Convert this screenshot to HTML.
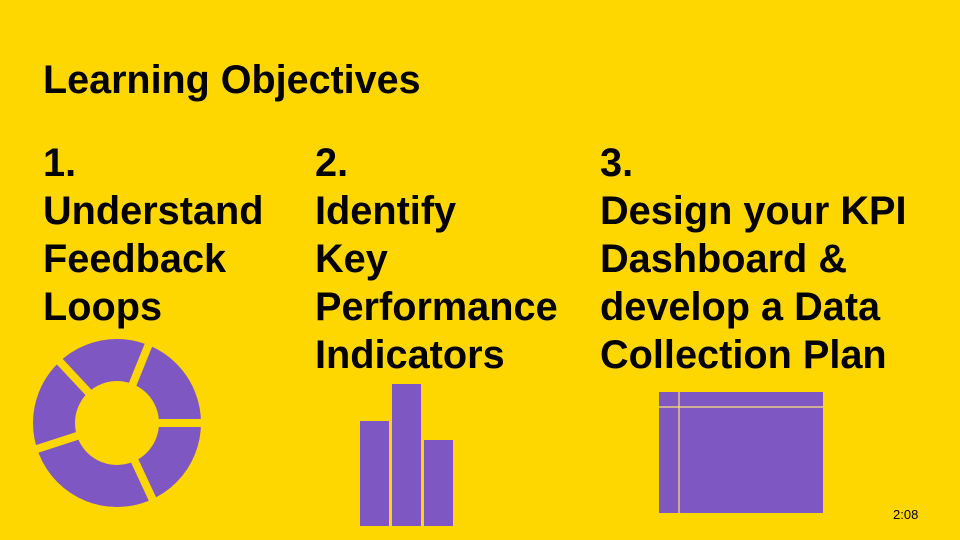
<!DOCTYPE html>
<html><head><meta charset="utf-8"><style>
html,body{margin:0;padding:0}
body{width:960px;height:540px;background:#FFD700;position:relative;overflow:hidden;font-family:"Liberation Sans",Arial,sans-serif;color:#000}
.t{position:absolute;font-weight:bold;white-space:nowrap}
.title{left:43px;top:61px;font-size:39.5px;line-height:38px}
.col{top:139px;font-size:39.7px;line-height:48px}
.timer{position:absolute;left:893px;top:507px;font-size:13px;line-height:16px}
</style></head><body>
<div class="t title">Learning Objectives</div>
<div class="t col" style="left:43px">1.<br>Understand<br>Feedback<br>Loops</div>
<div class="t col" style="left:315px">2.<br>Identify<br>Key<br>Performance<br>Indicators</div>
<div class="t col" style="left:600px">3.<br>Design your KPI<br>Dashboard &amp;<br>develop a Data<br>Collection Plan</div>
<svg width="960" height="540" style="position:absolute;left:0;top:0">
  <g transform="translate(117,423)">
    <circle r="63" fill="none" stroke="#7E57C2" stroke-width="42"/>
    <g stroke="#FFD700" stroke-width="8">
      <line x1="0" y1="0" x2="95" y2="0" transform="rotate(0)"/>
      <line x1="0" y1="0" x2="95" y2="0" transform="rotate(-68)"/>
      <line x1="0" y1="0" x2="95" y2="0" transform="rotate(-133)"/>
      <line x1="0" y1="0" x2="95" y2="0" transform="rotate(162)"/>
      <line x1="0" y1="0" x2="95" y2="0" transform="rotate(65)"/>
    </g>
  </g>
  <rect x="360" y="421" width="29" height="105" fill="#7E57C2"/>
  <rect x="392" y="384" width="29" height="142" fill="#7E57C2"/>
  <rect x="424" y="440" width="29" height="86" fill="#7E57C2"/>
  <rect x="659" y="392" width="164" height="121" fill="#7E57C2"/>
  <line x1="659" y1="407" x2="823" y2="407" stroke="#FFE27A" stroke-width="1.2"/>
  <line x1="679" y1="392" x2="679" y2="513" stroke="#FFE27A" stroke-width="1.2"/>
</svg>
<div class="timer">2:08</div>
</body></html>
